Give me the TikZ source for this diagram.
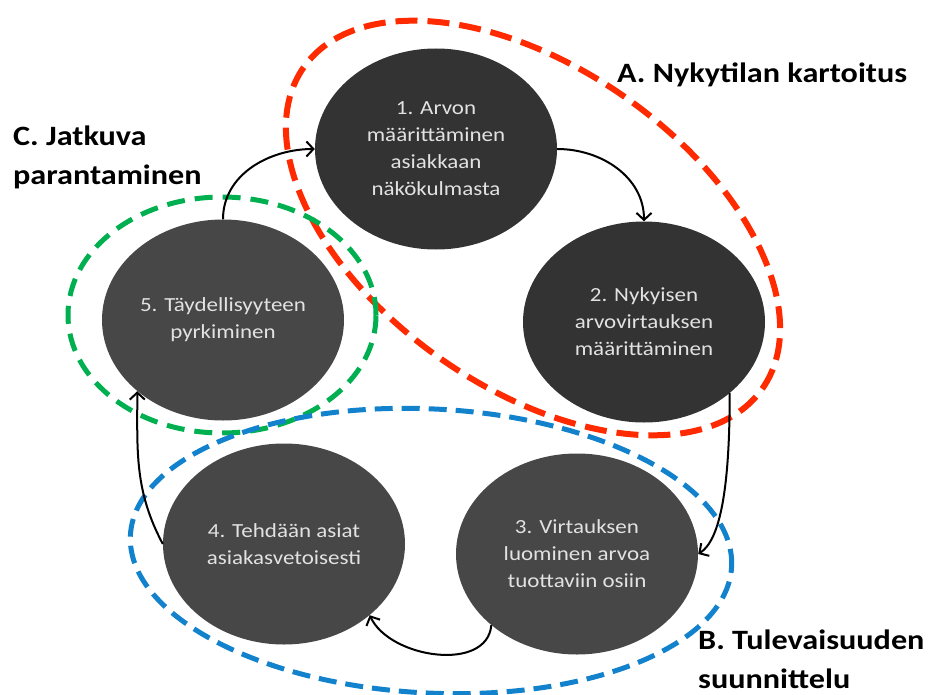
\documentclass[tikz,border=0pt]{standalone}
\usepackage{fontspec}
\setmainfont{Carlito}[FakeStretch=1.15]
\usetikzlibrary{shapes.geometric,arrows.meta}

\definecolor{stagedark}{HTML}{333333}
\definecolor{stagemid}{HTML}{474747}
\definecolor{stagetext}{HTML}{E2E2E2}
\definecolor{grpred}{HTML}{FF2A00}
\definecolor{grpgreen}{HTML}{00B050}
\definecolor{grpblue}{HTML}{1282CC}

\tikzset{
  stage/.style={ellipse, minimum width=242pt, minimum height=201pt, inner sep=0pt,
    align=center, text=stagetext, font=\fontsize{20}{27}\selectfont},
  group/.style={ellipse, inner sep=0pt, fill=none},
  flow/.style={line width=2pt, black, -{Straight Barb[length=7pt,width=15pt,line width=2pt]}},
  heading/.style={anchor=base west, align=left, inner sep=0pt,
    font=\bfseries\fontsize{28}{39}\selectfont}
}

\begin{document}
\begin{tikzpicture}[x=1pt,y=-1pt]
\useasboundingbox (0,0) rectangle (928,695);

% the five stages of the cycle
\node[stage, fill=stagedark] (n1) at (436,149) {1. Arvon\\määrittäminen\\asiakkaan\\näkökulmasta};
\node[stage, fill=stagedark] (n2) at (644,322) {2. Nykyisen\\arvovirtauksen\\määrittäminen};
\node[stage, fill=stagemid]  (n3) at (577,554) {3. Virtauksen\\luominen arvoa\\tuottaviin osiin};
\node[stage, fill=stagemid]  (n4) at (284,544) {4. Tehdään asiat\\asiakasvetoisesti};
\node[stage, fill=stagemid]  (n5) at (223,320) {5. Täydellisyyteen\\pyrkiminen};

% dashed outlines grouping the phases
\node[group, draw=grpred, line width=6pt, dash pattern=on 22pt off 10pt,
      minimum width=560pt, minimum height=320pt, rotate=-35] (grpA) at (533,228) {};
\node[group, draw=grpgreen, line width=5pt, dash pattern=on 18pt off 10pt,
      minimum width=308pt, minimum height=236pt] (grpC) at (222,315) {};
\node[group, draw=grpblue, line width=5pt, dash pattern=on 18pt off 9pt,
      minimum width=602pt, minimum height=284pt, rotate=-3] (grpB) at (431,551) {};

% cycle connectors
\draw[flow] (n1.east) to[out=0, in=90] (n2.north);
\draw[flow] (n2.south east) .. controls +(0,95) and +(22,-14) .. (n3.east);
\draw[flow] (n3.south west) to[out=-95, in=-65] (n4.south east);
\draw[flow] (n4.west) to[out=118, in=-90] (n5.south west);
\draw[flow] (n5.north) to[out=90, in=180] (n1.west);

% phase headings (anchored on the baseline of their last line)
\node[heading] (hA) at (617,83) {A. Nykytilan kartoitus};
\node[heading] (hB) at (698,688) {B. Tulevaisuuden\\suunnittelu};
\node[heading] (hC) at (13,184) {C. Jatkuva\\parantaminen};
\end{tikzpicture}
\end{document}
